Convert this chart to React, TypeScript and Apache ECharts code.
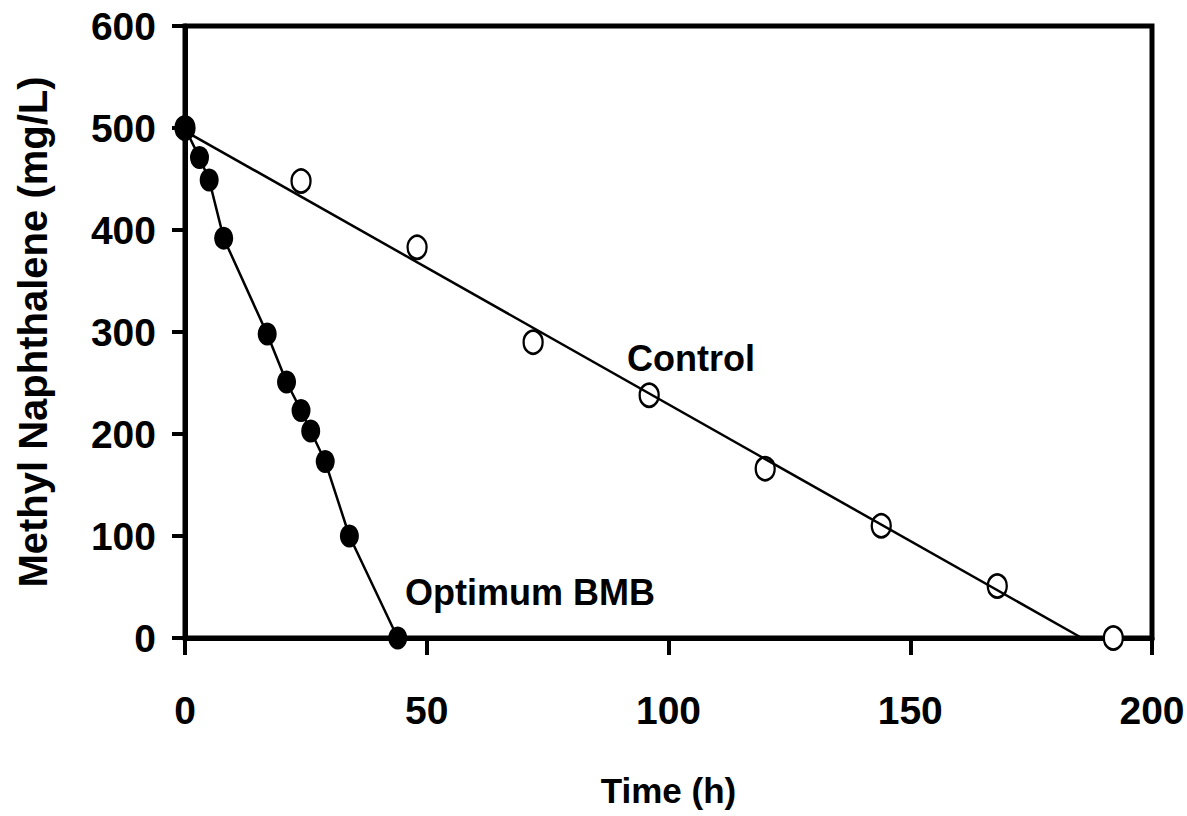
import React, { useEffect, useRef } from 'react';
import * as echarts from 'echarts';

// Optimum BMB (filled circles, connected)
const bmbTime = [0, 3, 5, 8, 17, 21, 24, 26, 29, 34, 44];
const bmbConc = [500, 471, 449, 392, 298, 251, 223, 203, 173, 100, 0];

// Control (open circles) and its linear fit
const controlTime = [0, 24, 48, 72, 96, 120, 144, 168, 192];
const controlConc = [500, 448, 383, 290, 238, 166, 110, 51, 0];
const controlFitTime = [0, 185.5];
const controlFitConc = [497, 0];

// In-plot annotations (anchored in data units)
const annotationText = ['Control', 'Optimum BMB'];
const annotationTime = [91.4, 45.5];
const annotationConc = [273.6, 44.5];

// Axis ranges
const xRange = [0, 200];
const xStep = 50;
const yRange = [0, 600];
const yStep = 100;

const REG = "'Liberation Sans', Arial, sans-serif";

export default function App() {
  const ref = useRef<HTMLDivElement>(null);

  useEffect(() => {
    if (!ref.current) return;
    const chart = echarts.init(ref.current, undefined, { renderer: 'svg' });

    const zip = (xs: number[], ys: number[]) => xs.map((x, i) => [x, ys[i]]);

    chart.setOption({
      animation: false,
      backgroundColor: '#ffffff',
      textStyle: { fontFamily: REG, color: '#000' },
      grid: {
        left: 185,
        right: 35,
        top: 26,
        bottom: 178,
        containLabel: false,
        outerBoundsMode: 'none',
        show: true,
        borderColor: '#000',
        borderWidth: 5,
        backgroundColor: 'transparent',
      },
      xAxis: {
        type: 'value',
        min: xRange[0],
        max: xRange[1],
        interval: xStep,
        name: 'Time (h)',
        nameLocation: 'middle',
        nameGap: 135,
        nameTextStyle: { fontFamily: REG, fontWeight: 'bold', fontSize: 35, color: '#000' },
        axisLine: { show: true, onZero: false, lineStyle: { color: '#000', width: 5 } },
        axisTick: { show: true, inside: false, length: 17, lineStyle: { color: '#000', width: 4 } },
        axisLabel: { fontFamily: REG, fontWeight: 'bold', fontSize: 39, color: '#000', margin: 53 },
        splitLine: { show: false },
      },
      yAxis: {
        type: 'value',
        min: yRange[0],
        max: yRange[1],
        interval: yStep,
        name: 'Methyl Naphthalene (mg/L)',
        nameLocation: 'middle',
        nameRotate: 90,
        nameGap: 132,
        nameTextStyle: { fontFamily: REG, fontWeight: 'bold', fontSize: 40, color: '#000' },
        axisLine: { show: true, onZero: false, lineStyle: { color: '#000', width: 5 } },
        axisTick: { show: true, inside: false, length: 13, lineStyle: { color: '#000', width: 4 } },
        axisLabel: { fontFamily: REG, fontWeight: 'bold', fontSize: 39, color: '#000', margin: 29 },
        splitLine: { show: false },
      },
      series: [
        {
          name: 'Control',
          type: 'scatter',
          data: zip(controlTime, controlConc),
          symbol: 'circle',
          symbolSize: [19, 23],
          itemStyle: { color: '#fff', borderColor: '#000', borderWidth: 2.5, opacity: 1 },
          z: 2,
        },
        {
          name: 'Control fit',
          type: 'line',
          data: zip(controlFitTime, controlFitConc),
          showSymbol: false,
          symbol: 'none',
          lineStyle: { color: '#000', width: 2.5 },
          z: 3,
        },
        {
          name: 'Optimum BMB',
          type: 'line',
          data: zip(bmbTime, bmbConc),
          symbol: 'circle',
          symbolSize: [19, 23],
          showAllSymbol: true,
          lineStyle: { color: '#000', width: 2.5 },
          itemStyle: { color: '#000', borderWidth: 0, opacity: 1 },
          z: 4,
        },
        {
          name: 'annotations',
          type: 'scatter',
          data: annotationText.map((t, i) => ({ value: [annotationTime[i], annotationConc[i]], name: t })),
          symbolSize: 0,
          silent: true,
          itemStyle: { opacity: 1, color: '#000' },
          label: {
            show: true,
            position: 'right',
            distance: 0,
            formatter: (p: any) => p.name,
            fontFamily: REG,
            fontWeight: 'bold',
            fontSize: 36,
            color: '#000',
            opacity: 1,
          },
          z: 5,
        },
      ],
    });

    return () => chart.dispose();
  }, []);

  return (
    <div
      ref={ref}
      style={{ position: 'fixed', left: 0, top: 0, width: 1187, height: 816, background: '#fff' }}
    />
  );
}
